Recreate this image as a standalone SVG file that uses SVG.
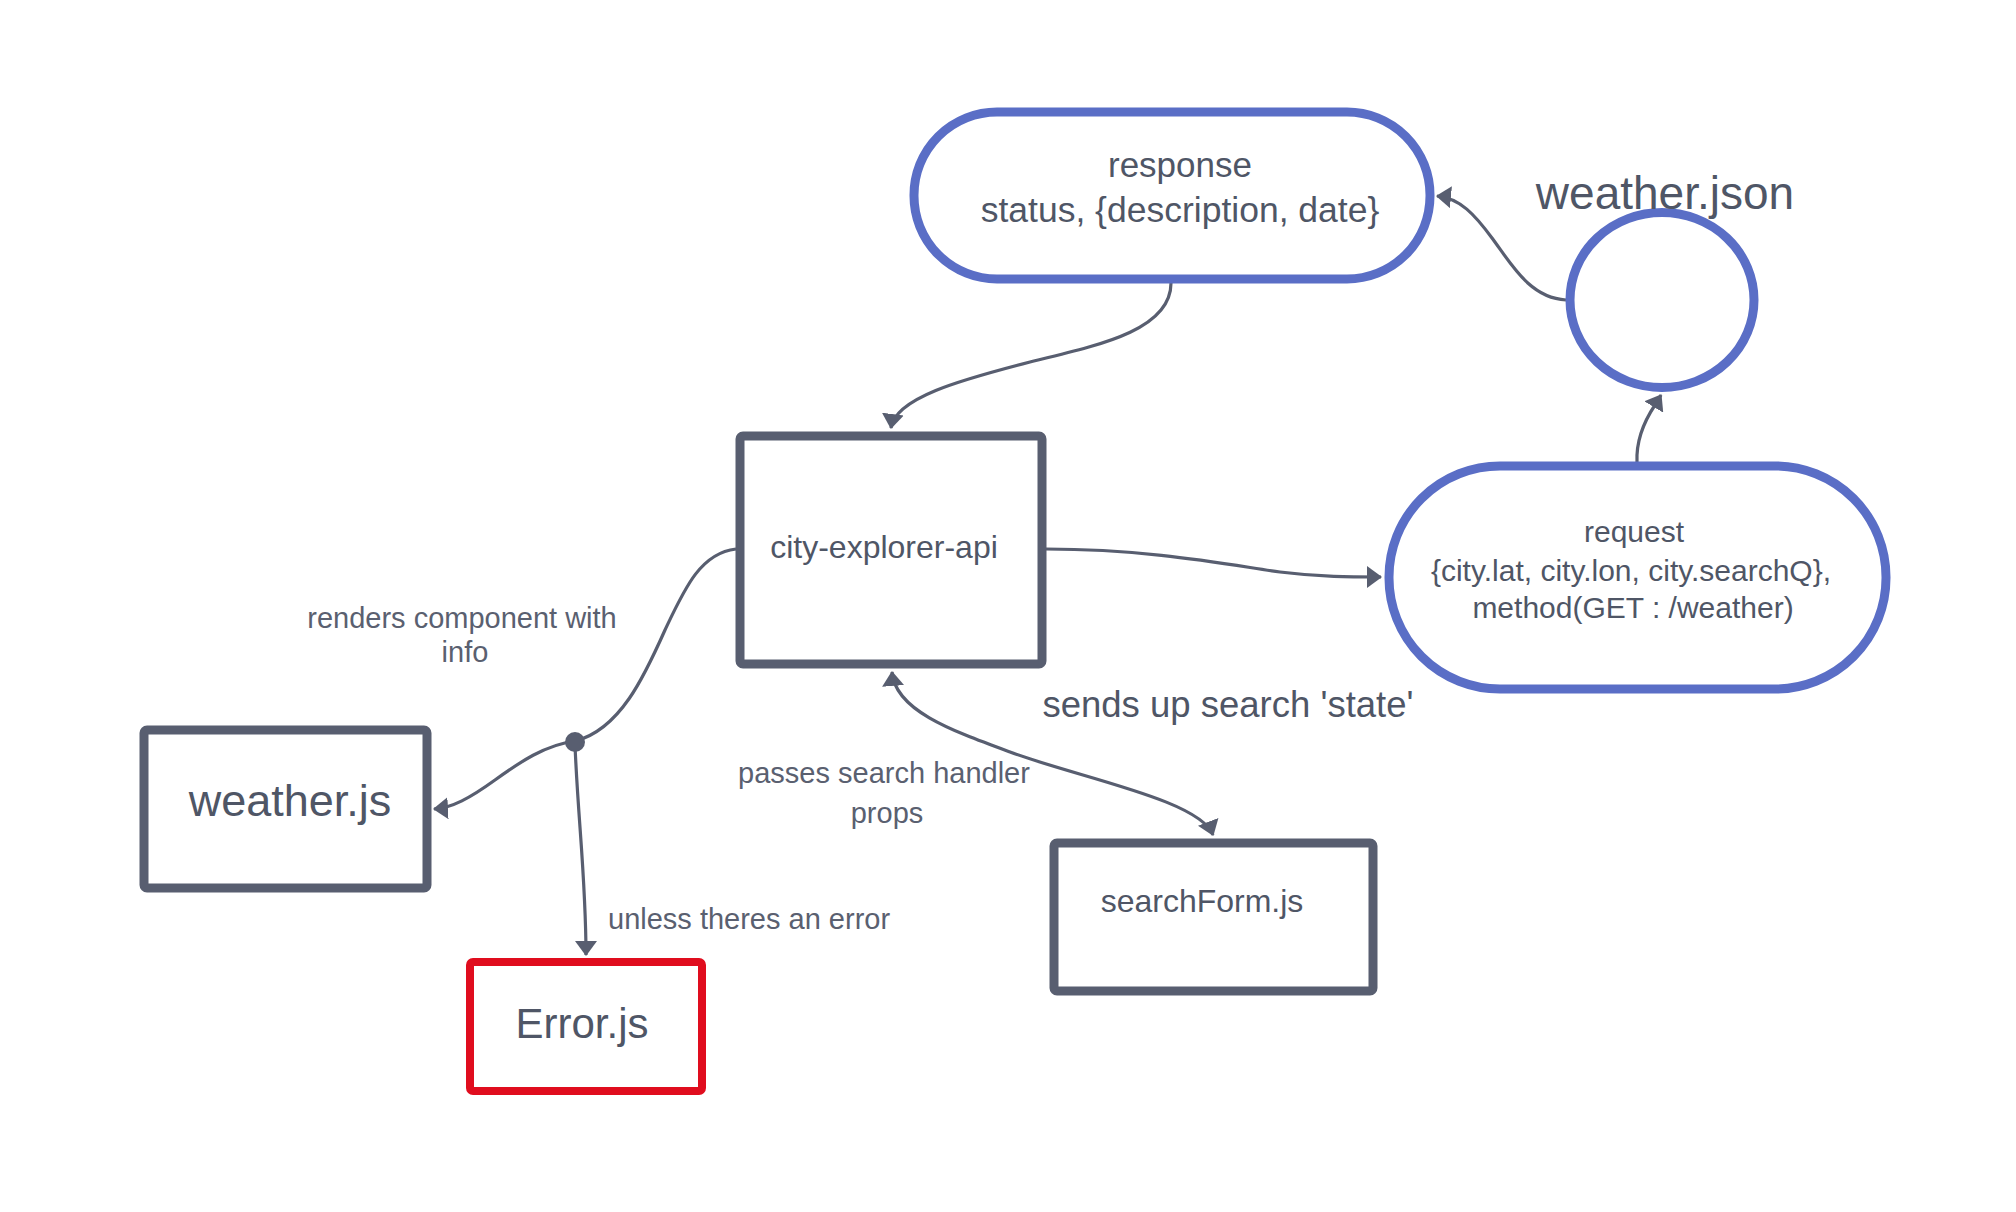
<svg xmlns="http://www.w3.org/2000/svg" width="2016" height="1212" viewBox="0 0 2016 1212">
<style>
  text { font-family: "Liberation Sans", Arial, sans-serif; fill: #4f5666; }
  .box { fill: #ffffff; stroke: #585e70; stroke-width: 9; }
  .pill { fill: #ffffff; stroke: #5a6ec6; stroke-width: 9; }
  .err { fill: #ffffff; stroke: #e00d1e; stroke-width: 8; }
  .conn { fill: none; stroke: #585e70; stroke-width: 3.2; }
  .lbl { font-size: 29px; fill: #5a6070; }
</style>
<defs>
  <marker id="ah" viewBox="0 0 15 22" refX="14" refY="11" markerWidth="15" markerHeight="22" markerUnits="userSpaceOnUse" orient="auto-start-reverse">
    <path d="M0,0 L15,11 L0,22 z" fill="#585e70"/>
  </marker>
</defs>
<rect width="2016" height="1212" fill="#ffffff"/>

<g id="connectors">
  <path class="conn" d="M1171,283 C1171,330 1100,345 1030,362 C960,380 895,398 891,428" marker-end="url(#ah)"/>
  <path class="conn" d="M1566,300 C1530,298 1512,265 1492,238 C1475,215 1460,198 1437,196" marker-end="url(#ah)"/>
  <path class="conn" d="M1637,462 C1636,440 1645,420 1655,405 L1661,395" marker-end="url(#ah)"/>
  <path class="conn" d="M1046,549 C1150,549 1230,565 1280,572 C1320,577 1350,577 1381,577" marker-end="url(#ah)"/>
  <path class="conn" d="M892,672 C895,710 950,730 1010,752 C1080,778 1200,800 1213,835" marker-start="url(#ah)" marker-end="url(#ah)"/>
  <path class="conn" d="M736,549 C700,553 684,590 665,630 C645,675 620,730 575,741"/>
  <path class="conn" d="M575,741 C545,745 520,762 495,780 C470,798 452,808 434,809" marker-end="url(#ah)"/>
  <path class="conn" d="M575,745 C578,820 586,880 586,955" marker-end="url(#ah)"/>
  <circle cx="575" cy="742" r="10" fill="#585e70"/>
</g>

<g id="response">
  <rect class="pill" x="914" y="112" width="516" height="167" rx="83" ry="83"/>
  <text x="1180" y="177" font-size="35" text-anchor="middle">response</text>
  <text x="1180" y="222" font-size="35.5" text-anchor="middle">status, {description, date}</text>
</g>

<g id="weather-json">
  <ellipse class="pill" cx="1662" cy="300" rx="92" ry="87.5"/>
  <text x="1665" y="209" font-size="46" text-anchor="middle">weather.json</text>
</g>

<g id="request">
  <rect class="pill" x="1389" y="466" width="497" height="223" rx="111" ry="111"/>
  <text x="1634" y="542" font-size="30" text-anchor="middle">request</text>
  <text x="1631" y="581" font-size="30" text-anchor="middle">{city.lat, city.lon, city.searchQ},</text>
  <text x="1633" y="618" font-size="30" text-anchor="middle">method(GET : /weather)</text>
</g>

<g id="city-explorer-api">
  <rect class="box" x="740" y="436" width="302" height="228" rx="3"/>
  <text x="884" y="558" font-size="32" text-anchor="middle">city-explorer-api</text>
</g>

<g id="weather-js">
  <rect class="box" x="144" y="730" width="283" height="158" rx="3"/>
  <text x="290" y="816" font-size="45" text-anchor="middle">weather.js</text>
</g>

<g id="error-js">
  <rect class="err" x="470" y="962" width="232" height="129" rx="3"/>
  <text x="582" y="1038" font-size="42" text-anchor="middle">Error.js</text>
</g>

<g id="searchform-js">
  <rect class="box" x="1054" y="843" width="319" height="148" rx="3"/>
  <text x="1202" y="912" font-size="32" text-anchor="middle">searchForm.js</text>
</g>

<g id="labels">
  <text class="lbl" x="462" y="628" text-anchor="middle">renders component with</text>
  <text class="lbl" x="465" y="662" text-anchor="middle">info</text>
  <text class="lbl" x="884" y="783" text-anchor="middle">passes search handler</text>
  <text class="lbl" x="887" y="823" text-anchor="middle">props</text>
  <text class="lbl" x="608" y="929">unless theres an error</text>
  <text x="1228" y="717" font-size="36.5" text-anchor="middle">sends up search 'state'</text>
</g>
</svg>
